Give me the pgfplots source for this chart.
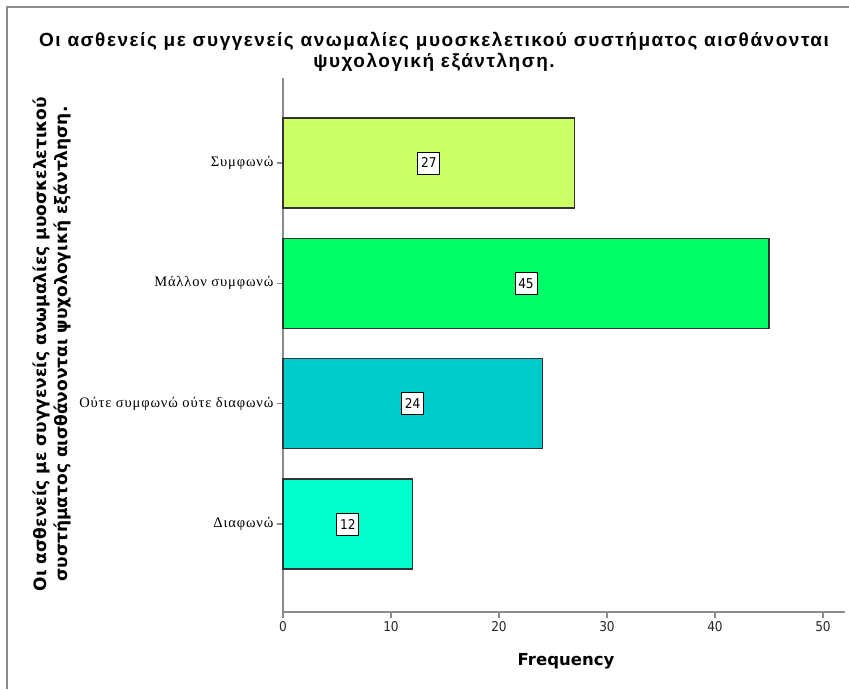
\documentclass[border=0pt]{standalone}
\usepackage{fontspec}
\setmainfont{Liberation Sans}
\newfontfamily\titlefont{Liberation Sans}[LetterSpace=8]
\newfontfamily\catfont{Liberation Serif}[LetterSpace=6]
\newfontfamily\labfont{DejaVu Sans}
\newfontfamily\numfont{DejaVu Sans Condensed}
\usepackage{pgfplots}
\usepackage{pgfplotstable}
\pgfplotsset{compat=1.18}

\definecolor{barA}{HTML}{CCFF66}
\definecolor{barB}{HTML}{00FF66}
\definecolor{barC}{HTML}{00CCCC}
\definecolor{barD}{HTML}{00FFCC}
\definecolor{axisgray}{HTML}{8C8C8C}
\definecolor{edgegray}{HTML}{333333}

% position on the category axis (3 = top) and frequency
\pgfplotstableread{
pos f
3 27
2 45
1 24
0 12
}\freqtable

\begin{document}
\begin{tikzpicture}[x=1pt,y=1pt]
\useasboundingbox (0,0) rectangle (849,689);
\draw[axisgray, line width=1.5pt] (7,0) -- (7,682) -- (849,682);

\node[font=\titlefont\bfseries\fontsize{19}{21}\selectfont, anchor=base] at (434,642)
  {Οι ασθενείς με συγγενείς ανωμαλίες μυοσκελετικού συστήματος αισθάνονται};
\node[font=\titlefont\bfseries\fontsize{19}{21}\selectfont, anchor=base] at (434,621)
  {ψυχολογική εξάντληση.};
\node[rotate=90, font=\labfont\bfseries\fontsize{17}{21}\selectfont, align=center] at (52,345)
  {Οι ασθενείς με συγγενείς ανωμαλίες μυοσκελετικού\\συστήματος αισθάνονται ψυχολογική εξάντληση.};
\node[font=\labfont\bfseries\fontsize{16.5}{19}\selectfont] at (566,28) {Frequency};

\begin{axis}[
  at={(283pt,77pt)}, anchor=south west,
  scale only axis, width=561.6pt, height=534pt,
  xmin=0, xmax=52, ymin=-0.731, ymax=3.706,
  axis x line*=bottom, axis y line*=left,
  axis line style={axisgray, line width=1.5pt, -},
  xtick={0,10,...,50}, ytick={0,1,2,3},
  yticklabels={Διαφωνώ, Ούτε συμφωνώ ούτε διαφωνώ, Μάλλον συμφωνώ, Συμφωνώ},
  tick style={axisgray, line width=1.2pt}, tick align=outside, major tick length=6pt,
  xticklabel style={font=\numfont\fontsize{13.5}{15}\selectfont, text=black!85},
  yticklabel style={font=\catfont\fontsize{14.5}{16}\selectfont, text=black},
  /pgf/number format/assume math mode=true,
  clip=false,
]
\addplot[xbar, bar width=90pt, bar shift=0pt, fill=barA, draw=edgegray, line width=1.2pt]
  table[x=f, y=pos, skip coords between index={1}{4}] {\freqtable};
\addplot[xbar, bar width=90pt, bar shift=0pt, fill=barB, draw=edgegray, line width=1.2pt]
  table[x=f, y=pos, skip coords between index={0}{1}, skip coords between index={2}{4}] {\freqtable};
\addplot[xbar, bar width=90pt, bar shift=0pt, fill=barC, draw=edgegray, line width=1.2pt]
  table[x=f, y=pos, skip coords between index={0}{2}, skip coords between index={3}{4}] {\freqtable};
\addplot[xbar, bar width=90pt, bar shift=0pt, fill=barD, draw=edgegray, line width=1.2pt]
  table[x=f, y=pos, skip coords between index={0}{3}] {\freqtable};
% value boxes at the middle of each bar
\addplot[draw=none, mark=none, nodes near coords, point meta=explicit,
  every node near coord/.style={anchor=center, fill=white, draw=black, line width=0.9pt,
    inner sep=2pt, minimum width=22pt, minimum height=22pt,
    font=\numfont\fontsize{13.5}{15}\selectfont}]
  table[x expr=\thisrow{f}/2, y=pos, meta=f] {\freqtable};
\end{axis}
\end{tikzpicture}
\end{document}
